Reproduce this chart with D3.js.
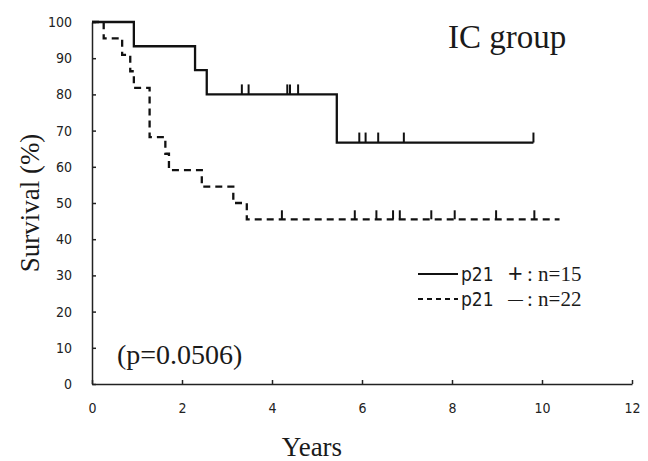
<!DOCTYPE html>
<html>
<head>
<meta charset="utf-8">
<script src="https://cdnjs.cloudflare.com/ajax/libs/d3/7.8.5/d3.min.js"></script>
<style>
  body { margin: 0; background: #fff; }
  .tick text { font-family: "Liberation Sans Narrow", "DejaVu Sans Condensed", Arial, sans-serif; font-size: 14px; fill: #222; }
  .serif { font-family: "Liberation Serif", "Times New Roman", serif; fill: #1a1a1a; }
</style>
</head>
<body>
<div id="my_dataviz"></div>
<script>
// step data (years, survival %)
var posTimes = [0, 0.93, 2.29, 2.55, 5.44, 9.81];
var posSurv  = [100, 93.3, 86.7, 80.0, 66.7, 66.7];
var posCensor = [3.33, 3.48, 4.34, 4.40, 4.58, 5.94, 6.08, 6.36, 6.93, 9.81];

var negTimes = [0, 0.26, 0.67, 0.85, 0.93, 1.28, 1.63, 1.71, 2.44, 3.14, 3.44, 10.39];
var negSurv  = [100, 95.5, 90.9, 86.4, 81.8, 68.2, 63.6, 59.1, 54.5, 50.0, 45.5, 45.5];
var negCensor = [4.22, 5.84, 6.32, 6.69, 6.84, 7.54, 8.06, 8.98, 9.83];

var xTicks = [0, 2, 4, 6, 8, 10, 12];
var yTicks = [0, 10, 20, 30, 40, 50, 60, 70, 80, 90, 100];

// set the dimensions and margins of the graph
var margin = {top: 22, right: 16, bottom: 77, left: 92},
    width = 648 - margin.left - margin.right,
    height = 461 - margin.top - margin.bottom;

var root = d3.select("#my_dataviz")
  .append("svg")
    .attr("width", 648)
    .attr("height", 461);

var svg = root.append("g")
    .attr("transform", "translate(" + margin.left + "," + margin.top + ")");

var x = d3.scaleLinear()
  .domain([0, 12])
  .range([0, width]);

var y = d3.scaleLinear()
  .domain([0, 100])
  .range([height, 0]);

// axes, ticks pointing inward
svg.append("g")
  .attr("transform", "translate(0," + height + ")")
  .call(d3.axisBottom(x).tickValues(xTicks).tickSizeInner(-4).tickSizeOuter(0).tickPadding(19));

svg.append("g")
  .call(d3.axisLeft(y).tickValues(yTicks).tickSizeInner(-4).tickSizeOuter(0).tickPadding(20));

svg.selectAll(".domain, .tick line")
  .attr("stroke", "#222")
  .attr("stroke-width", 1.5);

// build step points from times + survival
function steps(times, surv) {
  return times.map(function(t, i) { return [t, surv[i]]; });
}
function survAt(times, surv, t) {
  var s = surv[0];
  times.forEach(function(tt, i) { if (tt <= t) s = surv[i]; });
  return s;
}

var line = d3.line()
  .x(function(d) { return x(d[0]); })
  .y(function(d) { return y(d[1]); })
  .curve(d3.curveStepAfter);

svg.append("path")
  .datum(steps(negTimes, negSurv))
  .attr("fill", "none")
  .attr("stroke", "#111")
  .attr("stroke-width", 2.3)
  .attr("stroke-dasharray", "7,5")
  .attr("d", line);

svg.append("path")
  .datum(steps(posTimes, posSurv))
  .attr("fill", "none")
  .attr("stroke", "#111")
  .attr("stroke-width", 2.3)
  .attr("d", line);

// censor marks
svg.append("g")
  .selectAll("line")
  .data(posCensor)
  .enter()
  .append("line")
    .attr("x1", function(d) { return x(d); })
    .attr("x2", function(d) { return x(d); })
    .attr("y1", function(d) { return y(survAt(posTimes, posSurv, d)); })
    .attr("y2", function(d) { return y(survAt(posTimes, posSurv, d)) - 10; })
    .attr("stroke", "#111")
    .attr("stroke-width", 2);

svg.append("g")
  .selectAll("line")
  .data(negCensor)
  .enter()
  .append("line")
    .attr("x1", function(d) { return x(d); })
    .attr("x2", function(d) { return x(d); })
    .attr("y1", function(d) { return y(survAt(negTimes, negSurv, d)); })
    .attr("y2", function(d) { return y(survAt(negTimes, negSurv, d)) - 9; })
    .attr("stroke", "#111")
    .attr("stroke-width", 2);

// titles and labels
root.append("text")
  .attr("class", "serif")
  .attr("x", 448)
  .attr("y", 48)
  .style("font-size", "33px")
  .text("IC group");

root.append("text")
  .attr("class", "serif")
  .attr("text-anchor", "middle")
  .attr("transform", "translate(39,203) rotate(-90)")
  .style("font-size", "27px")
  .text("Survival (%)");

root.append("text")
  .attr("class", "serif")
  .attr("text-anchor", "middle")
  .attr("x", 312)
  .attr("y", 456)
  .style("font-size", "27px")
  .text("Years");

root.append("text")
  .attr("class", "serif")
  .attr("x", 117)
  .attr("y", 364)
  .style("font-size", "28px")
  .text("(p=0.0506)");

// legend
var legend = root.append("g");
var legendRows = [
  {dash: null, sign: "+", signSize: 25, label: ": n=15", y: 274},
  {dash: "5,4", sign: "\u2014", signSize: 15, label: ": n=22", y: 299}
];
legendRows.forEach(function(r) {
  legend.append("line")
    .attr("x1", 418).attr("x2", 458)
    .attr("y1", r.y).attr("y2", r.y)
    .attr("stroke", "#111")
    .attr("stroke-width", 2)
    .attr("stroke-dasharray", r.dash);
  legend.append("text")
    .attr("x", 461).attr("y", r.y + 7)
    .style("font-family", "'Liberation Sans Narrow', 'DejaVu Sans Condensed', Arial, sans-serif")
    .style("font-size", "19px")
    .style("fill", "#1a1a1a")
    .text("p21");
  legend.append("text")
    .attr("x", 508).attr("y", r.y + (r.signSize > 20 ? 8 : 5))
    .style("font-family", "'Liberation Sans', Arial, sans-serif")
    .style("font-size", r.signSize + "px")
    .style("fill", "#1a1a1a")
    .text(r.sign);
  legend.append("text")
    .attr("class", "serif")
    .attr("x", 527).attr("y", r.y + 7)
    .style("font-size", "21px")
    .text(r.label);
});
</script>
</body>
</html>
